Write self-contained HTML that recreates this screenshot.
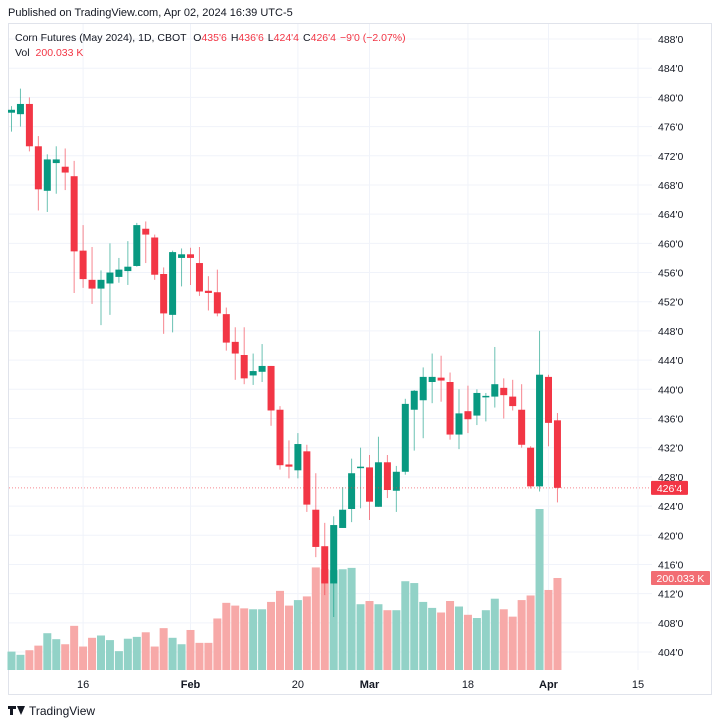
<!DOCTYPE html>
<html><head><meta charset="utf-8">
<style>
html,body{margin:0;padding:0;background:#fff;width:720px;height:726px;overflow:hidden;font-family:"Liberation Sans",sans-serif;}
svg text{font-family:"Liberation Sans",sans-serif;}
</style></head>
<body>
<svg id="chart" width="720" height="726" xmlns="http://www.w3.org/2000/svg">
<text x="8" y="16" font-size="11" fill="#131722">Published on TradingView.com, Apr 02, 2024 16:39 UTC-5</text>
<rect x="8.5" y="23.5" width="703" height="671" fill="none" stroke="#e0e3eb"/>
<g id="grid"></g>
<g id="vol"></g>
<g id="candles"></g>
<g id="axes"></g>
<text x="15" y="41" font-size="10.5" fill="#131722">Corn Futures (May 2024), 1D, CBOT <tspan dx="4">O</tspan><tspan fill="#f23645">435'6</tspan><tspan dx="4">H</tspan><tspan fill="#f23645">436'6</tspan><tspan dx="4">L</tspan><tspan fill="#f23645">424'4</tspan><tspan dx="4">C</tspan><tspan fill="#f23645">426'4</tspan><tspan dx="4" fill="#f23645">−9'0 (−2.07%)</tspan></text>
<text x="15" y="56" font-size="10.5" fill="#131722">Vol <tspan dx="3" fill="#f23645">200.033 K</tspan></text>
<g>
<rect x="8" y="706" width="8" height="3" fill="#131722"/><rect x="10" y="706" width="3" height="9" fill="#131722"/><path d="M17 706 L25 706 L21 715 Z" fill="#131722"/>
<text x="29" y="715" font-size="12" fill="#131722">TradingView</text>
</g>
</svg>
<script>
const opens=[477.9,477.7,479.1,473.3,467.2,471.0,470.5,469.2,459.0,455.0,453.8,454.5,455.4,456.2,456.9,462.0,460.8,455.8,450.2,458.0,458.5,457.3,453.5,453.3,450.3,446.5,444.7,441.9,442.4,443.2,437.2,429.7,428.9,431.5,423.5,418.5,413.4,421.0,423.6,429.2,429.3,423.9,430.0,426.1,428.7,437.2,438.5,441.0,441.6,441.0,433.8,437.0,436.4,438.9,439.0,440.2,439.0,437.2,432.0,426.7,441.7,435.75];
const highs=[478.8,481.2,480.0,474.7,472.2,473.3,473.0,471.3,462.5,459.5,456.3,460.0,458.0,460.3,462.8,463.0,461.2,456.7,459.0,459.3,459.4,459.5,455.5,456.4,451.2,448.5,448.5,444.9,446.2,443.2,437.7,433.0,434.0,432.4,428.5,421.7,422.6,426.6,430.5,432.0,431.0,433.5,431.0,429.5,438.7,439.9,443.0,444.9,444.6,442.3,440.0,440.5,440.0,439.5,445.8,441.5,441.3,440.7,432.2,448.0,442.0,436.75];
const lows=[475.3,476.0,472.6,464.5,464.3,466.8,467.3,453.2,453.9,451.7,448.8,450.2,454.6,454.3,456.8,457.3,455.0,447.6,447.8,454.1,454.3,452.8,450.8,450.0,445.3,441.3,440.7,440.6,441.0,435.0,429.0,427.8,427.8,423.2,417.0,411.8,408.8,421.0,421.8,423.7,422.1,423.9,425.1,423.2,428.3,431.6,433.3,438.1,438.3,433.1,431.8,434.0,435.1,435.6,437.5,436.0,437.1,432.0,426.4,426.0,432.2,424.5];
const closes=[478.3,479.1,473.3,467.4,471.5,471.5,469.7,458.9,455.1,453.8,455.0,456.0,456.4,456.8,462.5,461.2,455.7,450.4,458.8,458.5,458.0,453.4,453.2,450.4,446.4,444.9,441.5,442.5,443.2,437.1,429.6,429.4,432.5,424.2,418.4,413.4,421.4,423.5,428.5,429.4,424.6,430.0,426.2,428.7,438.0,439.8,441.7,441.7,441.2,433.8,436.7,435.9,439.5,439.1,440.7,439.2,437.7,432.4,426.7,442.0,435.4,426.5];
const volumes=[40,33,43,53,80,67,56,96,51,70,75,65,41,68,72,82,51,91,70,56,87,59,59,112,146,140,134,132,132,148,172,140,152,160,223,219,217,219,222,143,150,143,130,130,193,189,148,135,125,150,138,120,113,130,155,132,116,152,162,350,174,200.033];
const priceTicks=[404,408,412,416,420,424,428,432,436,440,444,448,452,456,460,464,468,472,476,480,484,488];
const dateLabels=["16","Feb","20","Mar","18","Apr","15"];
const dateIdx=[8,20,32,40,51,60,70];
const dateBold=[false,true,false,true,false,true,false];
const lastPrice=426.5, lastPriceLabel="426'4", lastVolLabel="200.033 K";

const NS="http://www.w3.org/2000/svg";
function xOf(i){return 190.5+(i-20)*8.95;}
function yP(p){return 39+(488-p)*7.298;}
function yV(v){return 670-v*0.46;}
function mk(tag,attrs,parent){const e=document.createElementNS(NS,tag);for(const k in attrs)e.setAttribute(k,attrs[k]);parent.appendChild(e);return e;}
const grid=document.getElementById('grid'),vol=document.getElementById('vol'),cg=document.getElementById('candles'),ax=document.getElementById('axes');
priceTicks.forEach(p=>{
  const l=mk('line',{x1:9,x2:652,y1:yP(p),y2:yP(p),stroke:'#f0f3fa','stroke-width':1},grid);
  
  
  const t=mk('text',{x:658,y:yP(p)+4,'font-size':10.5,fill:'#131722'},ax);
  t.textContent=Math.round(p)+"'0";
  
  
});
dateLabels.forEach((d,k)=>{
  const x=xOf(dateIdx[k]);
  const l=mk('line',{x1:x,x2:x,y1:24,y2:670,stroke:'#f0f3fa','stroke-width':1},grid);
  
  
  const t=mk('text',{x:x,y:688,'font-size':11,fill:'#131722','text-anchor':'middle','font-weight':dateBold[k]?'bold':'normal'},ax);
  t.textContent=d;
  
  
});
volumes.forEach((v,i)=>{
  const up=closes[i]>=opens[i];
  const r=mk('rect',{x:xOf(i)-4,y:yV(v),width:8,height:670-yV(v),fill:up?'#92d2c7':'#f7a9a8'},vol);
  
  
});
opens.forEach((o,i)=>{
  const c=closes[i],up=c>=o,col=up?'#089981':'#f23645',x=xOf(i);
  const w=mk('line',{x1:x,x2:x,y1:yP(highs[i]),y2:yP(lows[i]),stroke:col,'stroke-width':1,'stroke-opacity':0.6},cg);
  
  
  const top=yP(Math.max(o,c)),h=Math.max(1.5,Math.abs(yP(o)-yP(c)));
  const b=mk('rect',{x:x-3.5,y:top,width:7,height:h,fill:col},cg);
  
  
});
const pl=mk('line',{x1:9,x2:651,y1:yP(lastPrice),y2:yP(lastPrice),stroke:'#f23645','stroke-width':1,'stroke-dasharray':'1 2','stroke-opacity':0.6},ax);


const pb=mk('rect',{x:651,y:yP(lastPrice)-7,width:37,height:14,fill:'#f23645',rx:1},ax);


const pt=mk('text',{x:669.5,y:yP(lastPrice)+4,'font-size':10.5,fill:'#fff','text-anchor':'middle'},ax);
pt.textContent=lastPriceLabel;


const vb=mk('rect',{x:651,y:yV(volumes[volumes.length-1])-7,width:59,height:14,fill:'#f26d73',rx:1},ax);


const vt=mk('text',{x:680.5,y:yV(volumes[volumes.length-1])+4,'font-size':10.5,fill:'#fff','text-anchor':'middle'},ax);
vt.textContent=lastVolLabel;


</script>
</body></html>
